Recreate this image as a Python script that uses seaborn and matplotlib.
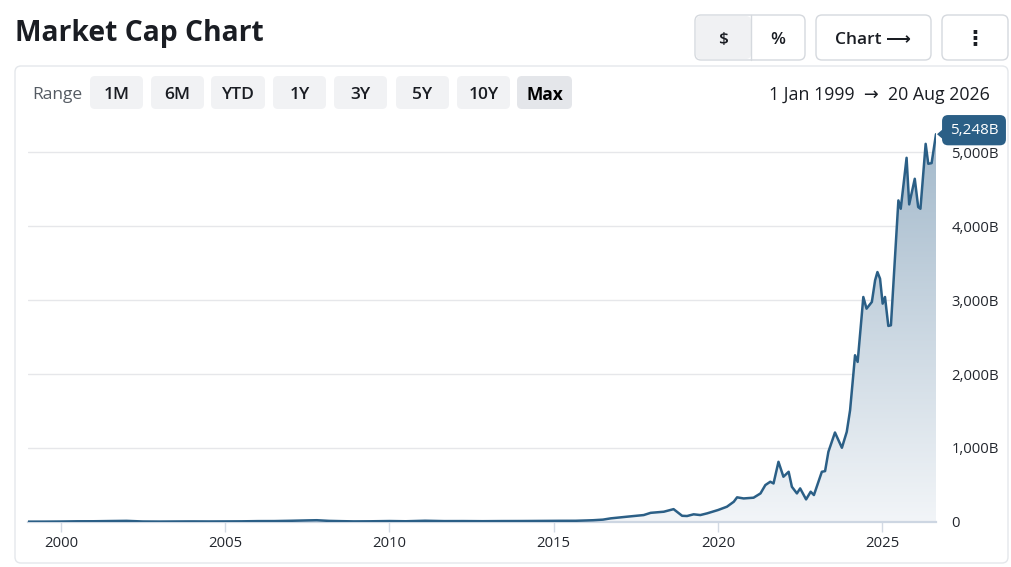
import matplotlib
matplotlib.use("Agg")
import matplotlib.pyplot as plt
import matplotlib.dates as mdates
from matplotlib.patches import FancyBboxPatch, Polygon
from matplotlib.colors import LinearSegmentedColormap
import matplotlib.ticker as mticker
import seaborn as sns
import numpy as np
import pandas as pd

# market cap (billions USD)
dates = [
    "1999-01-01", "1999-07-01", "2000-01-01", "2000-07-01", "2001-01-01", "2001-07-01",
    "2002-01-01", "2002-07-01", "2003-01-01", "2003-07-01", "2004-01-01", "2004-07-01",
    "2005-01-01", "2005-07-01", "2006-01-01", "2006-07-01", "2007-01-01", "2007-07-01",
    "2007-10-15", "2008-03-01", "2008-08-01", "2008-12-01", "2009-06-01", "2010-01-01",
    "2010-07-01", "2011-02-01", "2011-09-01", "2012-04-01", "2012-11-01", "2013-06-01",
    "2014-01-01", "2014-08-01", "2015-03-01", "2015-09-01", "2016-01-01", "2016-03-15",
    "2016-07-01", "2016-09-24", "2017-03-28", "2017-09-27", "2017-12-13", "2018-05-08",
    "2018-08-25", "2018-11-28", "2019-01-22", "2019-04-05", "2019-06-18", "2019-09-02",
    "2020-01-01", "2020-04-09", "2020-06-24", "2020-07-31", "2020-10-12", "2021-01-30",
    "2021-04-17", "2021-06-10", "2021-08-04", "2021-09-09", "2021-11-03", "2021-12-28",
    "2022-02-24", "2022-04-01", "2022-05-27", "2022-07-02", "2022-09-06", "2022-10-27",
    "2022-12-02", "2023-02-28", "2023-04-05", "2023-05-12", "2023-07-24", "2023-10-09",
    "2023-12-02", "2024-01-08", "2024-02-14", "2024-03-03", "2024-04-01", "2024-05-15",
    "2024-06-03", "2024-07-09", "2024-09-06", "2024-10-12", "2024-11-07", "2024-12-06",
    "2025-01-04", "2025-01-30", "2025-03-08", "2025-04-06", "2025-06-28", "2025-07-24",
    "2025-09-27", "2025-10-26", "2025-12-27", "2026-02-03", "2026-02-28", "2026-04-27",
    "2026-05-26", "2026-07-02", "2026-08-20",
]
market_cap = [
    0.6, 1.0, 2.5, 5.5, 6.0, 9.0,
    11.5, 3.0, 1.8, 3.0, 4.0, 3.2,
    4.0, 5.0, 8.0, 8.5, 12.5, 17.5,
    20.0, 11.0, 7.0, 4.3, 5.5, 9.0,
    6.0, 13.0, 8.0, 8.5, 7.0, 8.5,
    9.0, 10.5, 12.0, 12.5, 17.0, 20.0,
    28.0, 45.0, 68.0, 90.0, 120.0, 135.0,
    170.0, 80.0, 77.0, 100.0, 90.0, 113.0,
    158.0, 203.0, 270.0, 330.0, 315.0, 325.0,
    383.0, 496.0, 541.0, 518.0, 811.0, 609.0,
    676.0, 473.0, 383.0, 451.0, 302.0, 406.0,
    361.0, 676.0, 685.0, 947.0, 1208.0, 1001.0,
    1217.0, 1510.0, 2006.0, 2254.0, 2164.0, 2773.0,
    3043.0, 2885.0, 2976.0, 3269.0, 3381.0, 3291.0,
    2953.0, 3043.0, 2651.0, 2660.0, 4351.0, 4238.0,
    4928.0, 4297.0, 4644.0, 4261.0, 4238.0, 5117.0,
    4847.0, 4856.0, 5248.0,
]
y_ticks = [0, 1000, 2000, 3000, 4000, 5000]
range_buttons = ["1M", "6M", "YTD", "1Y", "3Y", "5Y", "10Y", "Max"]
active_button = "Max"
start_label = "1 Jan 1999"
end_label = "20 Aug 2026"

df = pd.DataFrame({"date": pd.to_datetime(dates), "cap": market_cap})

sns.set_theme(style="white")
plt.rcParams["font.family"] = ["Open Sans", "DejaVu Sans"]

W, H = 1012, 567
fig = plt.figure(figsize=(W / 100, H / 100), dpi=100)
fig.patch.set_facecolor("white")

# page / UI layer in pixel coords
ui = fig.add_axes([0, 0, 1, 1], zorder=0)
ui.set_xlim(0, W)
ui.set_ylim(H, 0)
ui.axis("off")

dark = "#1a1d23"
ui.text(15, 34, "Market Cap Chart", fontsize=20.3, fontweight="bold", color=dark,
        va="center", ha="left")

def box(x0, y0, x1, y1, fc="white", ec="#d5d9de", r=6, lw=1.0):
    ui.add_patch(FancyBboxPatch((x0, y0), x1 - x0, y1 - y0,
                                boxstyle=f"round,pad=0,rounding_size={r}",
                                fc=fc, ec=ec, lw=lw))

# top-right controls
box(695, 15, 805, 60)
ui.add_patch(FancyBboxPatch((696, 16), 55, 43, boxstyle="round,pad=0,rounding_size=5",
                            fc="#f0f1f3", ec="none"))
ui.plot([751, 751], [15, 60], color="#d5d9de", lw=1)
ui.text(723, 40, "$", fontsize=12.5, color=dark, ha="center", va="center", fontweight="semibold")
ui.text(778, 40, "%", fontsize=12.5, color=dark, ha="center", va="center", fontweight="semibold")
box(816, 15, 931, 60)
ui.text(873, 40, "Chart \u27f6", fontsize=12.5, color=dark, ha="center", va="center",
        fontweight="semibold")
box(942, 15, 1008, 60)
ui.text(975, 38, "\u22ee", fontsize=15, color=dark, ha="center", va="center",
        fontweight="bold", family=["DejaVu Sans"])

# card
box(15, 66, 1008, 563, ec="#e4e7eb", r=6)

ui.text(32, 95, "Range", fontsize=12.5, color="#555b63", ha="left", va="center")
btn_x = [(90, 143), (151, 204), (211, 265), (273, 326), (334, 387),
         (396, 449), (457, 510), (517, 572)]
for lab, (x0, x1) in zip(range_buttons, btn_x):
    active = lab == active_button
    box(x0, 76, x1, 109, fc="#e4e6ea" if active else "#f1f2f4", ec="none", r=5)
    ui.text((x0 + x1) / 2, 95, lab, fontsize=12.5, color="#000" if active else dark,
            ha="center", va="center", fontweight="bold" if active else "semibold")
ui.text(990, 95, f"{start_label}  \u2192  {end_label}", fontsize=12.8, color=dark,
        ha="right", va="center", fontweight="medium")

# chart
ax = fig.add_axes([28 / W, 1 - 521.7 / H, (936 - 28) / W, (521.7 - 120) / H], zorder=1)
ax.set_facecolor("none")

line_c = "#2b5f86"
sns.lineplot(data=df, x="date", y="cap", ax=ax, color=line_c, linewidth=1.8, zorder=4)

x_num = mdates.date2num(df["date"])
x0, x1 = mdates.date2num(pd.Timestamp("1999-01-01")), x_num[-1]
y_top = 5440
fill = ax.fill_between(df["date"], df["cap"], 0, color="none", lw=0)
cmap = LinearSegmentedColormap.from_list("g", ["#f2f5f8", "#a3b9cb"])
grad = np.linspace(0, 1, 256).reshape(-1, 1)
img = ax.imshow(grad, extent=[x0, x1, 0, max(market_cap)], aspect="auto",
                cmap=cmap, origin="lower", zorder=2)
img.set_clip_path(fill.get_paths()[0], transform=ax.transData)

ax.set_xlim(x0, x1)
ax.set_ylim(0, y_top)

ax.set_yticks(y_ticks)
ax.yaxis.set_major_formatter(mticker.FuncFormatter(
    lambda v, p: "0" if v == 0 else f"{v:,.0f}B"))
ax.yaxis.tick_right()
ax.tick_params(axis="y", length=0, pad=11, labelsize=10.7, labelcolor="#23272e")
ax.grid(axis="y", color="#e6e7ea", lw=1)
ax.set_axisbelow(True)

ax.xaxis.set_major_locator(mdates.YearLocator(5))
ax.xaxis.set_major_formatter(mdates.DateFormatter("%Y"))
ax.tick_params(axis="x", length=7, width=1, color="#d3dae4", pad=3,
               labelsize=10.7, labelcolor="#23272e", bottom=True)
for s in ["top", "left", "right"]:
    ax.spines[s].set_visible(False)
ax.spines["bottom"].set_color("#cdd6e2")
ax.spines["bottom"].set_linewidth(1.6)
ax.set_xlabel("")
ax.set_ylabel("")

# last value tag
tag_c = "#2b5f86"
last_x, last_y = df["date"].iloc[-1], market_cap[-1]
ax.annotate(f"{last_y:,.0f}B", xy=(last_x, last_y), xytext=(38, 4),
            textcoords="offset pixels", ha="center", va="center",
            fontsize=11, color="white", zorder=10, annotation_clip=False,
            bbox=dict(boxstyle="round,pad=0.5,rounding_size=0.4", fc=tag_c, ec="none"))
px, py = ax.transData.transform((mdates.date2num(last_x), last_y))
ui_pt = ui.transData.inverted().transform((px, py))
tri = Polygon([(ui_pt[0] + 1, ui_pt[1]), (ui_pt[0] + 8, ui_pt[1] - 6),
               (ui_pt[0] + 8, ui_pt[1] + 6)], closed=True, fc=tag_c, ec="none",
              zorder=10, transform=ui.transData)
fig.add_artist(tri)

fig.savefig("out.png", dpi=100, facecolor="white")
